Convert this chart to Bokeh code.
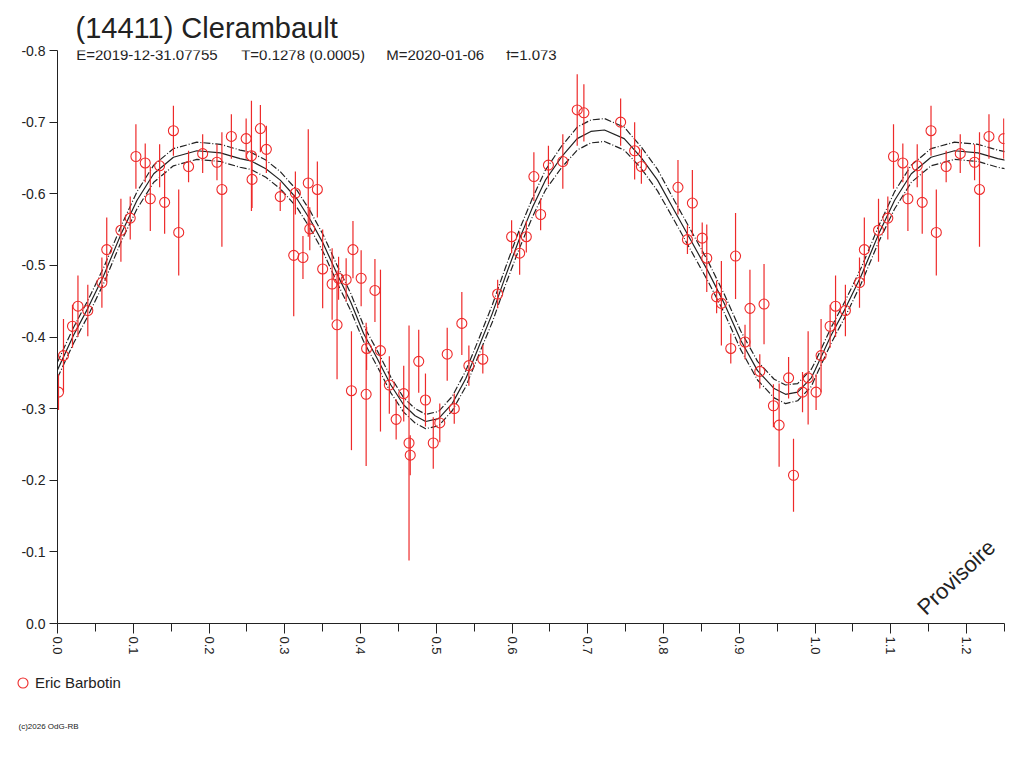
import math
import numpy as np
from bokeh.plotting import figure
from bokeh.layouts import column
from bokeh.models import (Range1d, FixedTicker, PrintfTickFormatter, Label, Title,
                          Legend, LegendItem, ColumnDataSource)
from bokeh.embed import file_html
from bokeh.resources import INLINE

# ---------------- data ----------------
title_text = "(14411) Clerambault"
sub_E = "E=2019-12-31.07755"
sub_T = "T=0.1278 (0.0005)"
sub_M = "M=2020-01-06"
sub_f = "f=1.073"
observer = "Eric Barbotin"
copyright_text = "(c)2026 OdG-RB"
stamp_text = "Provisoire"

x_ticks = [0.0, 0.1, 0.2, 0.3, 0.4, 0.5, 0.6, 0.7, 0.8, 0.9, 1.0, 1.1, 1.2]
x_minor = [0.05, 0.15, 0.25, 0.35, 0.45, 0.55, 0.65, 0.75, 0.85, 0.95, 1.05, 1.15, 1.25]
y_ticks = [0.0, -0.1, -0.2, -0.3, -0.4, -0.5, -0.6, -0.7, -0.8]

phase = [0.0013, 0.0079, 0.0198, 0.0270, 0.0400, 0.0586, 0.0650, 0.0837, 0.0960, 0.1035,
         0.1158, 0.1225, 0.1348, 0.1414, 0.1530, 0.1600, 0.1730, 0.1916, 0.2105, 0.2170,
         0.2295, 0.2490, 0.2560, 0.2568, 0.2678, 0.2757, 0.2940, 0.3118, 0.3140, 0.3240,
         0.3310, 0.3330, 0.3430, 0.3500, 0.3625, 0.3690, 0.3710, 0.3810, 0.3880, 0.3900,
         0.4008, 0.4074, 0.4080, 0.4190, 0.4263, 0.4380, 0.4470, 0.4570, 0.4640, 0.4656,
         0.4768, 0.4857, 0.4960, 0.5046, 0.5144, 0.5237, 0.5337, 0.5430, 0.5614, 0.5810,
         0.5994, 0.6100, 0.6188, 0.6288, 0.6377, 0.6480, 0.6670, 0.6860, 0.6948, 0.7433,
         0.7618, 0.7707, 0.8190, 0.8315, 0.8380, 0.8510, 0.8570, 0.8700, 0.8763, 0.8887,
         0.8950, 0.9075, 0.9140, 0.9270, 0.9326, 0.9450, 0.9525, 0.9650, 0.9715, 0.9834,
         0.9908]
mag = [-0.323, -0.374, -0.415, -0.443, -0.437, -0.476, -0.522, -0.549, -0.566, -0.652,
       -0.643, -0.593, -0.639, -0.588, -0.688, -0.546, -0.638, -0.656, -0.644, -0.606,
       -0.680, -0.677, -0.653, -0.620, -0.691, -0.662, -0.596, -0.514, -0.601, -0.511,
       -0.615, -0.551, -0.606, -0.495, -0.474, -0.417, -0.482, -0.480, -0.325, -0.522,
       -0.482, -0.320, -0.384, -0.465, -0.381, -0.333, -0.285, -0.321, -0.252, -0.235,
       -0.366, -0.312, -0.252, -0.280, -0.376, -0.300, -0.419, -0.360, -0.369, -0.460,
       -0.540, -0.517, -0.540, -0.624, -0.571, -0.640, -0.645, -0.717, -0.713, -0.700,
       -0.660, -0.638, -0.609, -0.536, -0.587, -0.538, -0.510, -0.456, -0.447, -0.384,
       -0.513, -0.393, -0.440, -0.352, -0.446, -0.304, -0.277, -0.343, -0.207, -0.323,
       -0.343]
err = [0.025, 0.051, 0.030, 0.043, 0.036, 0.035, 0.045, 0.044, 0.030, 0.045,
       0.027, 0.045, 0.030, 0.044, 0.035, 0.060, 0.022, 0.027, 0.025, 0.080,
       0.031, 0.028, 0.077, 0.040, 0.033, 0.033, 0.020, 0.085, 0.030, 0.030,
       0.075, 0.030, 0.039, 0.055, 0.050, 0.076, 0.030, 0.030, 0.083, 0.040,
       0.039, 0.100, 0.030, 0.044, 0.113, 0.040, 0.028, 0.039, 0.164, 0.028,
       0.044, 0.037, 0.036, 0.027, 0.037, 0.021, 0.044, 0.028, 0.020, 0.020,
       0.023, 0.030, 0.022, 0.034, 0.022, 0.027, 0.038, 0.050, 0.040, 0.033,
       0.040, 0.024, 0.038, 0.020, 0.046, 0.022, 0.047, 0.023, 0.059, 0.021,
       0.060, 0.024, 0.054, 0.024, 0.056, 0.030, 0.058, 0.029, 0.051, 0.028,
       0.065]

fit_phase = [0.000, 0.021, 0.040, 0.061, 0.084, 0.105, 0.127, 0.153, 0.184, 0.215,
             0.241, 0.255, 0.275, 0.294, 0.316, 0.334, 0.351, 0.369, 0.387, 0.404,
             0.422, 0.440, 0.457, 0.472, 0.486, 0.503, 0.521, 0.539, 0.556, 0.574,
             0.591, 0.609, 0.627, 0.644, 0.665, 0.686, 0.704, 0.722, 0.748, 0.770,
             0.792, 0.814, 0.836, 0.858, 0.880, 0.902, 0.924, 0.946, 0.961, 0.977,
             0.995]
fit_mag = [-0.354, -0.402, -0.440, -0.486, -0.544, -0.591, -0.628, -0.651, -0.660, -0.657,
           -0.649, -0.646, -0.635, -0.619, -0.593, -0.563, -0.530, -0.488, -0.449, -0.405,
           -0.370, -0.333, -0.305, -0.290, -0.282, -0.286, -0.307, -0.342, -0.386, -0.433,
           -0.484, -0.535, -0.581, -0.619, -0.651, -0.677, -0.687, -0.689, -0.677, -0.651,
           -0.619, -0.577, -0.535, -0.493, -0.447, -0.395, -0.353, -0.328, -0.320, -0.323,
           -0.343]
fit_sigma = [0.011, 0.011, 0.011, 0.011, 0.011, 0.012, 0.012, 0.012, 0.012, 0.012,
             0.012, 0.012, 0.012, 0.012, 0.012, 0.012, 0.012, 0.012, 0.012, 0.011,
             0.011, 0.011, 0.010, 0.010, 0.010, 0.010, 0.010, 0.011, 0.011, 0.012,
             0.012, 0.013, 0.013, 0.014, 0.015, 0.016, 0.016, 0.016, 0.016, 0.015,
             0.015, 0.014, 0.014, 0.014, 0.013, 0.013, 0.013, 0.013, 0.013, 0.012,
             0.012]

# ---------------- helpers ----------------
RED = "#ee2a2a"
INK = "#222222"
FONT = "Liberation Sans"

ph = np.array(phase)
mg = np.array(mag)
er = np.array(err)
rep = ph < 0.25
ph_all = np.concatenate([ph, ph[rep] + 1.0])
mg_all = np.concatenate([mg, mg[rep]])
er_all = np.concatenate([er, er[rep]])
pts = ColumnDataSource(dict(x=ph_all, y=mg_all, lo=mg_all - er_all, hi=mg_all + er_all))

fp = np.array(fit_phase)
fm = np.array(fit_mag)
fs = np.array(fit_sigma)
frep = fp < 0.26
fp_all = np.concatenate([fp, fp[frep] + 1.0])
fm_all = np.concatenate([fm, fm[frep]])
fs_all = np.concatenate([fs, fs[frep]])

# page pixel -> data (text placement only)
X0, XS = 57.3, 757.6
Y0, YS = 623.3, 716.7
def dx(px):
    return (px - X0) / XS
def dy(py):
    return (py - Y0) / YS

W = 1016
MAIN_H = 660

# ---------------- main figure ----------------
p = figure(width=W, height=MAIN_H, output_backend="svg", toolbar_location=None,
           x_range=Range1d(0, 1.25), y_range=Range1d(0, -0.8),
           min_border_left=57, min_border_right=12, min_border_top=50,
           min_border_bottom=37)
p.frame_align = False
p.outline_line_color = None
p.grid.visible = False
p.background_fill_color = "white"
p.border_fill_color = "white"

p.add_layout(Title(text=title_text, align="left", offset=18, standoff=13,
                   text_font=FONT, text_font_size="29px", text_font_style="normal",
                   text_color=INK), "above")

xa = p.xaxis[0]
xa.ticker = FixedTicker(ticks=x_ticks, minor_ticks=x_minor)
xa.formatter = PrintfTickFormatter(format="%.1f")
xa.major_label_orientation = -math.pi / 2
xa.major_tick_out = 10
xa.major_tick_in = 0
xa.minor_tick_out = 8
xa.minor_tick_in = 0
xa.major_label_standoff = 3

ya = p.yaxis[0]
ya.ticker = FixedTicker(ticks=y_ticks, minor_ticks=[])
ya.formatter = PrintfTickFormatter(format="%.1f")
ya.major_tick_out = 8
ya.major_tick_in = 0
ya.major_label_standoff = 4

for ax in (xa, ya):
    ax.axis_line_color = INK
    ax.major_tick_line_color = INK
    ax.minor_tick_line_color = INK
    ax.major_label_text_font = FONT
    ax.major_label_text_color = INK
xa.major_label_text_font_size = "13px"
ya.major_label_text_font_size = "14px"

# fit curve and envelope
p.line(fp_all, fm_all - fs_all, line_color=INK, line_width=1.2, line_dash="7 2 1 2")
p.line(fp_all, fm_all + fs_all, line_color=INK, line_width=1.2, line_dash="7 2 1 2")
p.line(fp_all, fm_all, line_color=INK, line_width=1.2)

# error bars and points
p.segment(x0="x", y0="lo", x1="x", y1="hi", source=pts, line_color=RED, line_width=1.2)
circ = p.scatter(x="x", y="y", source=pts, marker="circle", size=10,
                 fill_color=None, line_color=RED, line_width=1.1)

def add_label(fig, text, x, y, size, **kw):
    fig.add_layout(Label(x=x, y=y, text=text, text_font=FONT,
                         text_font_size=size, text_color=INK, **kw))

add_label(p, sub_E, dx(76), dy(54), "15px", text_baseline="alphabetic")
add_label(p, sub_T, dx(241), dy(54), "15px", text_baseline="alphabetic")
add_label(p, sub_M, dx(386), dy(54), "15px", text_baseline="alphabetic")
add_label(p, sub_f, dx(506), dy(54), "15px", text_baseline="alphabetic")
add_label(p, stamp_text, dx(956), dy(577), "22px", text_baseline="middle",
          text_align="center", angle=0.76)

# ---------------- footer (legend + credit) ----------------
FOOT_H = 100
foot = figure(width=W, height=FOOT_H, output_backend="svg", toolbar_location=None,
              x_range=Range1d(0, W), y_range=Range1d(FOOT_H, 0),
              x_axis_location=None, y_axis_location=None,
              min_border=0, min_border_left=0, min_border_right=0,
              min_border_top=0, min_border_bottom=0)
foot.frame_align = False
foot.grid.visible = False
foot.outline_line_color = None
foot.background_fill_color = "white"
foot.border_fill_color = "white"
dummy = foot.scatter(x=[-1000.0], y=[-1000.0], marker="circle", size=10,
                     fill_color=None, line_color=RED, line_width=1.1)

legend = Legend(items=[LegendItem(label=observer, renderers=[dummy])],
                location="top_left", orientation="vertical",
                border_line_color=None, background_fill_alpha=0,
                padding=0, margin=10, spacing=0,
                glyph_width=25, glyph_height=25, label_standoff=0,
                label_text_font=FONT, label_text_font_size="15px",
                label_text_color=INK, label_height=25)
foot.add_layout(legend)
add_label(foot, copyright_text, 18, 66, "8px", text_baseline="middle")

layout = column(p, foot, spacing=0)
open("out.html", "w").write(file_html(layout, INLINE))
